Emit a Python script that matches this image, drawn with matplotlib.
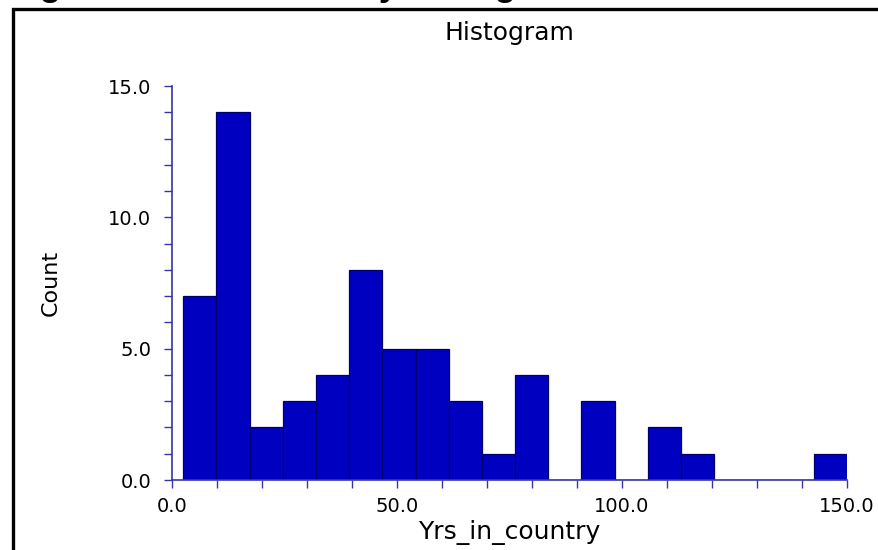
import numpy as np
import matplotlib
matplotlib.use('Agg')
import matplotlib.pyplot as plt
from matplotlib.patches import Rectangle
from matplotlib.ticker import MultipleLocator, FormatStrFormatter

# histogram of Yrs_in_country, 20 bins between the min and max value
bin_start = 2.5
bin_end = 150.0
counts = [7, 14, 2, 3, 4, 8, 5, 5, 3, 1, 4, 0, 3, 0, 2, 1, 0, 0, 0, 1]

x_ticks = [0, 50, 100, 150]
y_ticks = [0, 5, 10, 15]

bar_color = '#0000C0'
edge_color = '#00006A'
axis_color = '#3636A6'

edges = np.linspace(bin_start, bin_end, len(counts) + 1)
widths = np.diff(edges)

fig = plt.figure(figsize=(8.79, 5.5), dpi=100)
ax = fig.add_axes([172 / 879, 70 / 550, 675 / 879, 394 / 550])

ax.bar(edges[:-1], counts, width=widths, align='edge',
       color=bar_color, edgecolor=edge_color, linewidth=0.9, zorder=2)

ax.set_xlim(0, 150)
ax.set_ylim(0, 15)

for side in ['top', 'right']:
    ax.spines[side].set_visible(False)
for side in ['left', 'bottom']:
    ax.spines[side].set_color(axis_color)
    ax.spines[side].set_linewidth(1.2)

ax.xaxis.set_major_locator(plt.FixedLocator(x_ticks))
ax.xaxis.set_minor_locator(MultipleLocator(10))
ax.yaxis.set_major_locator(plt.FixedLocator(y_ticks))
ax.yaxis.set_minor_locator(MultipleLocator(1))
ax.xaxis.set_major_formatter(FormatStrFormatter('%.1f'))
ax.yaxis.set_major_formatter(FormatStrFormatter('%.1f'))

ax.tick_params(which='both', direction='out', length=6, width=1,
               color=axis_color, labelsize=14, labelcolor='black')
ax.tick_params(axis='x', which='major', pad=6)
ax.tick_params(axis='y', which='major', pad=9)

ax.set_title('Histogram', fontsize=18, pad=33)
ax.set_xlabel('Yrs_in_country', fontsize=18, labelpad=3)
ax.set_ylabel('Count', fontsize=16, labelpad=34)

# outer frame of the copied figure, cut by the image edges
frame = Rectangle((13 / 879, -0.1), 1.2, 1.0836,
                  transform=fig.transFigure, fill=False,
                  edgecolor='black', linewidth=2.4, clip_on=False)
fig.patches.append(frame)

# caption above the frame, mostly outside the picture
fig.text(9 / 879, 1 + 4 / 550, 'Figure 2: Yrs in country Histogram',
         fontsize=25, fontweight='bold', family='Liberation Sans',
         va='baseline', ha='left')

fig.savefig('out.png', dpi=100)
